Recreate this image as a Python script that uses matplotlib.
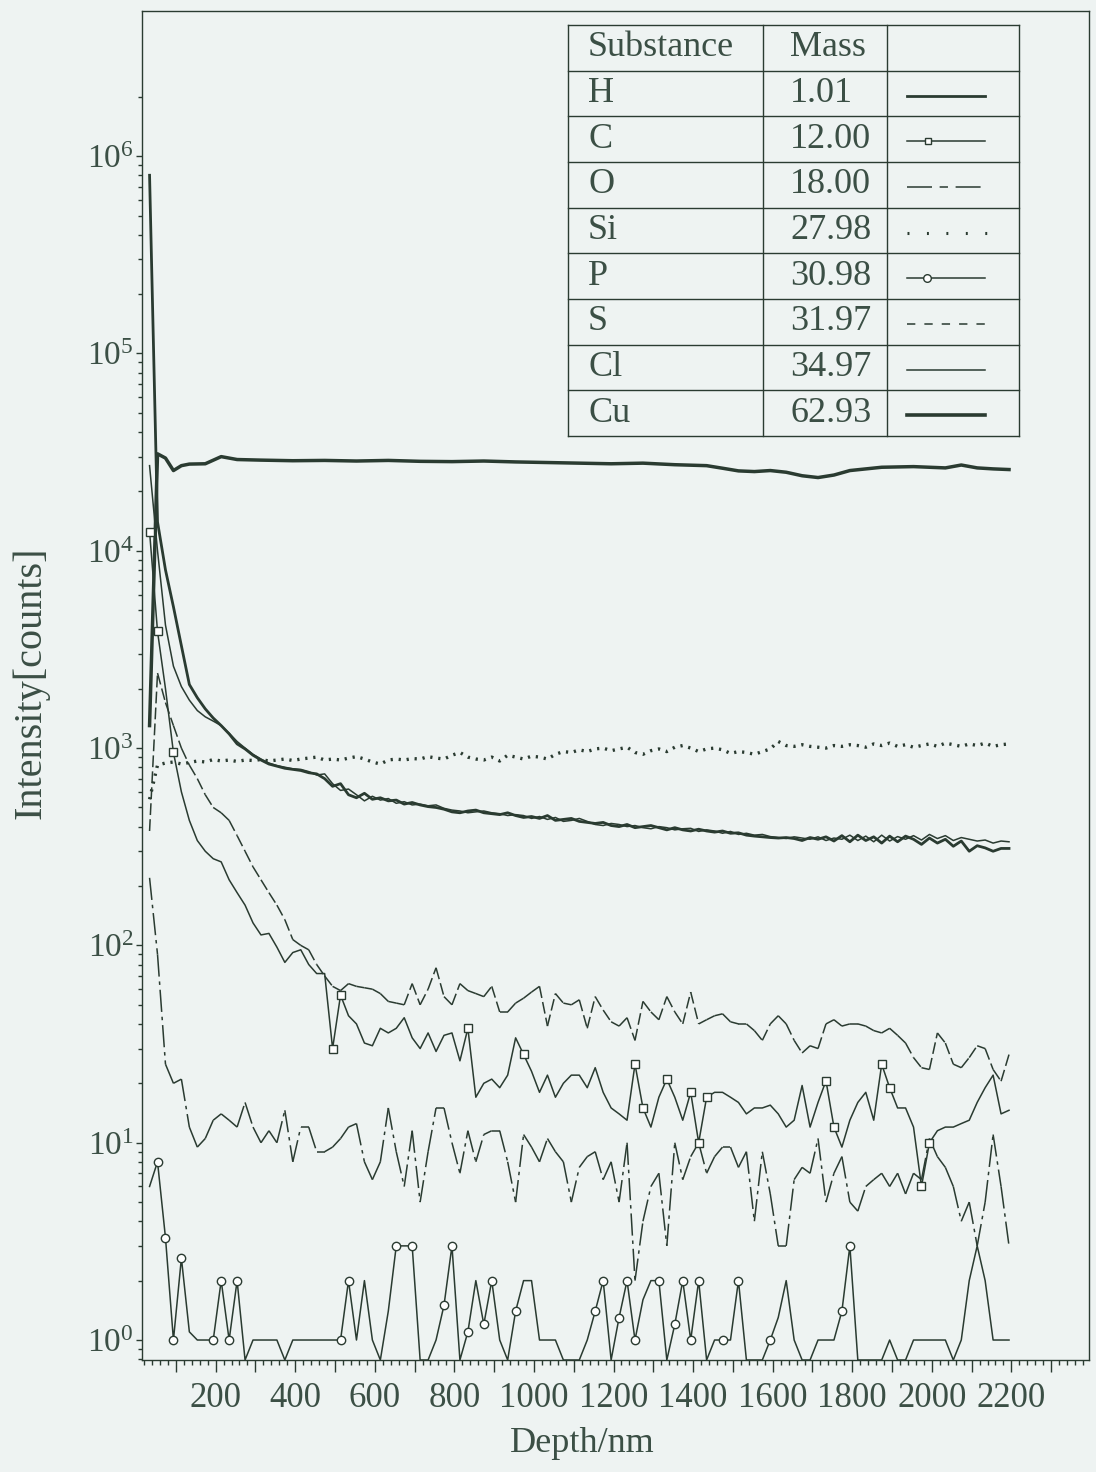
import numpy as np
import matplotlib
matplotlib.use('Agg')
import matplotlib.pyplot as plt
from matplotlib.collections import LineCollection
from matplotlib.ticker import FixedLocator, NullFormatter, FuncFormatter, MultipleLocator

plt.rcParams['font.family'] = ['Liberation Serif', 'DejaVu Serif']
plt.rcParams['mathtext.fontset'] = 'custom'
plt.rcParams['mathtext.rm'] = 'Liberation Serif'
plt.rcParams['mathtext.default'] = 'regular'
plt.rcParams['lines.scale_dashes'] = False

BG = '#eef3f2'
LC = '#2a3b31'
TXT = '#3b4f45'

# ---------------- data ----------------
depth = [34, 54, 74, 94, 114, 134, 154, 174, 194, 214,
         234, 254, 274, 294, 314, 334, 354, 374, 394, 414,
         434, 454, 474, 494, 514, 534, 554, 574, 594, 614,
         634, 654, 674, 694, 714, 734, 754, 774, 794, 814,
         834, 854, 874, 894, 914, 934, 954, 974, 994, 1014,
         1034, 1054, 1074, 1094, 1114, 1134, 1154, 1174, 1194, 1214,
         1234, 1254, 1274, 1294, 1314, 1334, 1354, 1374, 1394, 1414,
         1434, 1454, 1474, 1494, 1514, 1534, 1554, 1574, 1594, 1614,
         1634, 1654, 1674, 1694, 1714, 1734, 1754, 1774, 1794, 1814,
         1834, 1854, 1874, 1894, 1914, 1934, 1954, 1974, 1994, 2014,
         2034, 2054, 2074, 2094, 2114, 2134, 2154, 2174, 2194]

H = [800000, 14000, 8000, 5200, 3300, 2100, 1800, 1580, 1420, 1300,
     1180, 1050, 990, 920, 870, 830, 810, 790, 780, 770,
     750, 740, 700, 640, 660, 580, 560, 590, 550, 560,
     540, 545, 520, 530, 515, 505, 500, 490, 475, 470,
     480, 485, 470, 465, 460, 470, 455, 445, 450, 440,
     455, 430, 435, 440, 425, 420, 415, 420, 405, 400,
     410, 395, 400, 405, 395, 385, 395, 385, 380, 388,
     380, 375, 380, 370, 372, 362, 358, 355, 352, 350,
     352, 348, 340, 352, 345, 355, 338, 360, 335, 362,
     340, 355, 330, 358, 335, 358, 345, 325, 350, 330,
     345, 318, 338, 300, 320, 312, 300, 310, 310]

Cl = [27000, 10000, 4200, 2600, 2050, 1750, 1550, 1440, 1370, 1300,
      1190, 1080, 1000, 930, 880, 840, 815, 800, 785, 780,
      760, 730, 740, 660, 610, 620, 580, 540, 570, 545,
      555, 525, 535, 515, 520, 510, 515, 495, 485, 480,
      470, 475, 480, 470, 465, 455, 460, 455, 440, 450,
      435, 445, 425, 430, 440, 425, 410, 405, 415, 410,
      400, 405, 395, 390, 400, 395, 385, 390, 392, 378,
      385, 380, 370, 378, 365, 370, 362, 365, 356, 352,
      348, 355, 350, 345, 355, 340, 350, 345, 362, 340,
      358, 335, 362, 338, 356, 345, 360, 342, 365, 348,
      360, 340, 352, 345, 338, 342, 330, 338, 335]

C = [12500, 3900, 2000, 950, 600, 430, 340, 300, 275, 265,
     215, 185, 160, 130, 113, 115, 98, 82, 92, 95,
     80, 72, 72, 30, 56, 44, 40, 32, 31, 38,
     36, 38, 43, 34, 30, 36, 29, 35, 36, 26,
     38, 17, 20, 21, 19, 22, 34, 28, 23, 18,
     22, 17, 20, 22, 22, 19, 24, 18, 15, 14,
     13, 25, 15, 12, 17, 21, 17, 13, 18, 10,
     17, 18, 18, 17, 16, 14, 15, 15, 15.5, 14,
     12, 13, 19.5, 12, 16, 20.6, 12, 9.5, 13, 16,
     18, 13, 25, 19, 15, 15, 12, 6, 10, 11.5,
     12, 12, 12.5, 13, 16, 19, 22, 14, 14.6]

O = [220, 90, 25, 20, 21, 12, 9.5, 10.5, 13, 14,
     13, 12, 16, 12, 10, 11.5, 10, 14.6, 8, 12,
     12, 9, 9, 9.5, 10.5, 12, 12.5, 8, 6.5, 8,
     15, 9, 6, 11.5, 5, 9, 15, 15, 10, 7,
     11.5, 8, 11, 11.5, 11.5, 8, 5, 11, 9.5, 8,
     10.5, 9, 8, 5, 7.5, 8.5, 9, 6.5, 8, 5,
     10, 2, 4, 6, 7, 3, 10, 6.5, 8.5, 10,
     7, 8.5, 9.5, 9.5, 7.5, 9, 4, 9, 5.5, 3,
     3, 6.5, 7.5, 7, 10.5, 5, 7, 8.5, 5, 4.5,
     6, 6.5, 7, 6, 7, 5.5, 7, 6.5, 10.5, 8.5,
     7.5, 6, 4, 5, 3, 5, 11, 6, 3]

Si = [550, 820, 840, 850, 830, 845, 860, 850, 875, 860,
      870, 855, 870, 865, 875, 860, 870, 880, 865, 880,
      890, 900, 870, 880, 870, 890, 905, 880, 850, 830,
      870, 880, 870, 885, 880, 905, 890, 880, 920, 950,
      900, 880, 870, 900, 860, 920, 900, 880, 910, 900,
      880, 930, 960, 950, 980, 960, 990, 1000, 970, 990,
      1010, 950, 930, 970, 990, 960, 1010, 1030, 1000, 960,
      990, 1000, 980, 940, 960, 950, 930, 960, 990, 1080,
      1030, 1020, 1040, 1020, 1010, 1000, 1030, 1020, 1040, 1030,
      1010, 1050, 1030, 1060, 1020, 1040, 1010, 1030, 1050, 1020,
      1060, 1040, 1020, 1050, 1030, 1060, 1020, 1040, 1050]

P = [6, 8, 3.3, 1, 2.6, 1.1, 1, 1, 1, 2,
     1, 2, 0, 1, 1, 1, 1, 0, 1, 1,
     1, 1, 1, 1, 1, 2, 1, 2, 1, 0,
     1.4, 3, 3, 3, 0, 0, 1, 1.5, 3, 0,
     1.1, 2, 1.2, 2, 1, 0, 1.4, 2, 2, 1,
     1, 1, 0, 0, 0, 1, 1.4, 2, 0, 1.3,
     2, 1, 1.6, 2, 2, 0, 1.2, 2, 1, 2,
     0, 1, 1, 1, 2, 0, 0, 0, 1, 1.3,
     2, 1, 0, 0, 1, 1, 1, 1.4, 3, 0,
     0, 0, 0, 1, 0, 0, 1, 1, 1, 1,
     1, 0, 1, 2, 3, 2, 1, 1, 1]

S = [380, 2400, 1700, 1300, 1000, 820, 700, 580, 500, 470,
     430, 360, 300, 250, 215, 185, 160, 135, 107, 100,
     95, 80, 70, 62, 59, 64, 62, 61, 60, 57,
     52, 51, 50, 64, 50, 60, 77, 55, 50, 64,
     59, 57, 55, 62, 46, 46, 51, 54, 58, 62,
     39, 57, 51, 50, 53, 38, 55, 47, 41, 39,
     43, 33, 52, 46, 42, 55, 46, 40, 58, 40,
     42, 44, 45, 41, 40, 40, 37, 33, 40, 44,
     40, 33, 28.5, 31, 30, 40, 42, 39, 40, 40,
     39, 37, 36, 38, 35, 32, 27, 24, 23.5, 36,
     32, 25, 24, 27, 31, 30, 23.5, 20.5, 28]

cu_depth = [34, 54, 74, 94, 114, 134, 174, 214, 254, 314,
            394, 474, 554, 634, 714, 794, 874, 954, 1034, 1114,
            1194, 1274, 1354, 1434, 1474, 1514, 1554, 1594, 1634, 1674,
            1714, 1754, 1794, 1874, 1954, 2034, 2074, 2114, 2154, 2194]
Cu = [1300, 31000, 29500, 25500, 27000, 27500, 27600, 30000, 29000, 28800,
      28600, 28700, 28500, 28700, 28400, 28300, 28500, 28200, 28000, 27800,
      27600, 27800, 27300, 27000, 26200, 25400, 25200, 25500, 25000, 24000,
      23500, 24200, 25500, 26500, 26700, 26300, 27200, 26300, 26000, 25800]

c_marks = [0, 1, 3, 23, 24, 40, 47, 61, 62, 65, 68, 69, 70, 85, 86, 92, 93, 97, 98]
p_marks = [1, 2, 3, 4, 8, 9, 10, 11, 24, 25, 31, 33, 37, 38, 40, 42, 43, 46,
           56, 57, 59, 60, 61, 64, 66, 67, 68, 69, 72, 74, 78, 87, 88]

legend_rows = [('H', '1.01'), ('C', '12.00'), ('O', '18.00'), ('Si', '27.98'),
               ('P', '30.98'), ('S', '31.97'), ('Cl', '34.97'), ('Cu', '62.93')]

# ---------------- figure ----------------
YMIN, YMAX = 0.792, 5.44e6
W, Hpx = 1096, 1472
fig = plt.figure(figsize=(W / 100, Hpx / 100), dpi=100)
fig.patch.set_facecolor(BG)
ax = fig.add_axes([142 / W, 112 / Hpx, 947 / W, 1349 / Hpx])
ax.set_facecolor(BG)
ax.set_yscale('log')
ax.set_xlim(15, 2395)
ax.set_ylim(YMIN, YMAX)

d = np.array(depth, dtype=float)

def segments(x, y):
    pts = np.column_stack([x, y])
    return np.stack([pts[:-1], pts[1:]], axis=1)

# Cu (thick)
ax.plot(cu_depth, Cu, color=LC, lw=2.5, solid_joinstyle='round', zorder=5)
# H (medium thick)
ax.plot(d, H, color=LC, lw=2.0, zorder=5)
# Cl (thin)
ax.plot(d, Cl, color=LC, lw=1.1, zorder=5)
# C (thin with squares)
ax.plot(d, C, color=LC, lw=1.1, marker='s', markevery=c_marks, ms=5.5,
        mfc='white', mec=LC, mew=1.0, zorder=6)
# P (thin with circles), zero counts drawn at the bottom of the axis
Pv = np.array(P, dtype=float)
Pv = np.where(Pv > 0, Pv, YMIN)
ax.plot(d, Pv, color=LC, lw=1.1, marker='o', markevery=p_marks, ms=6,
        mfc='white', mec=LC, mew=1.0, zorder=6)
# Si (dotted)
ax.plot(d, Si, color=LC, lw=2.4, ls=(0, (1.6, 4.2)), dash_capstyle='butt', zorder=5)
# O (dash-dot, pattern restarts per segment)
lcO = LineCollection(segments(d, O), colors=LC, linewidths=1.1,
                     linestyles=[(0, (16, 3.5, 2.5, 3.5))], zorder=5)
ax.add_collection(lcO)
# S (dashed, pattern restarts per segment)
lcS = LineCollection(segments(d, S), colors=LC, linewidths=1.1,
                     linestyles=[(0, (8.5, 3.0))], zorder=5)
ax.add_collection(lcS)

# ticks
ax.yaxis.set_major_locator(FixedLocator([1, 10, 100, 1e3, 1e4, 1e5, 1e6]))
minor_y = [m * 10.0 ** e for e in range(-1, 7) for m in range(2, 10)]
minor_y = [v for v in minor_y if YMIN <= v <= 2.0e6]
ax.yaxis.set_minor_locator(FixedLocator(minor_y))
ax.yaxis.set_minor_formatter(NullFormatter())
ax.yaxis.set_major_formatter(FuncFormatter(lambda v, p: r'$10^{%d}$' % int(round(np.log10(v)))))
ax.xaxis.set_major_locator(FixedLocator(list(range(100, 2400, 100))))
ax.xaxis.set_major_formatter(FuncFormatter(lambda v, p: f'{int(round(v))}' if round(v) % 200 == 0 and v <= 2200 else ''))
ax.xaxis.set_minor_locator(MultipleLocator(20))
ax.tick_params(axis='x', which='major', direction='out', length=8.5, width=1.0,
               pad=7, labelsize=25, color=LC, labelcolor=TXT, top=False)
ax.tick_params(axis='x', which='minor', direction='out', length=3.5, width=1.0,
               color=LC, top=False)
ax.tick_params(axis='y', which='major', direction='out', length=4.5, width=1.0,
               pad=1.5, labelsize=24, color=LC, labelcolor=TXT, right=False)
ax.tick_params(axis='y', which='minor', direction='out', length=3, width=1.0,
               color=LC, right=False)
for sp in ax.spines.values():
    sp.set_color(LC)
    sp.set_linewidth(1.0)

fig.text(31 / W, 1 - 683 / Hpx, 'Intensity[counts]', rotation=90, ha='center',
         va='center', fontsize=29, color=TXT)
fig.text(582 / W, 1 - 1443 / Hpx, 'Depth/nm', ha='center', va='center',
         fontsize=26, color=TXT)

# ---------------- table legend ----------------
ov = fig.add_axes([0, 0, 1, 1], zorder=10)
ov.set_xlim(0, W)
ov.set_ylim(Hpx, 0)
ov.axis('off')
ov.patch.set_alpha(0)

tl, tr, tt, tb = 568, 1019, 25, 436
c1, c2 = 763, 887
ov.fill([tl, tr, tr, tl], [tt, tt, tb, tb], color=BG, zorder=1)
row_edges = np.linspace(tt, tb, 10)
for yy in row_edges:
    ov.plot([tl, tr], [yy, yy], color=LC, lw=1.0, zorder=2)
for xx in (tl, c1, c2, tr):
    ov.plot([xx, xx], [tt, tb], color=LC, lw=1.0, zorder=2)
centers = (row_edges[:-1] + row_edges[1:]) / 2
ov.text(588, centers[0], 'Substance', ha='left', va='center', fontsize=26, color=TXT)
ov.text(790, centers[0], 'Mass', ha='left', va='center', fontsize=26, color=TXT)
for (name, mass), yc in zip(legend_rows, centers[1:]):
    ov.text(588, yc, name, ha='left', va='center', fontsize=26, color=TXT)
    ov.text(790, yc, mass, ha='left', va='center', fontsize=26, color=TXT)

sx0, sx1 = 907, 985
ys = centers[1:] + 2
ov.plot([sx0, sx1], [ys[0], ys[0]], color=LC, lw=2.0)
ov.plot([sx0, sx1], [ys[1], ys[1]], color=LC, lw=1.1)
ov.plot([928], [ys[1]], marker='s', ms=5, mfc='white', mec=LC, mew=1.0, color=LC)
ov.plot([sx0, sx1], [ys[2], ys[2]], color=LC, lw=1.1, ls=(0, (18, 5.5, 6, 5.5)))
ov.plot([sx0, sx1 + 2], [ys[3], ys[3]], color=LC, lw=2.2, ls=(0, (1.4, 12.6)), dash_capstyle='butt')
ov.plot([sx0, sx1], [ys[4], ys[4]], color=LC, lw=1.1)
ov.plot([927], [ys[4]], marker='o', ms=5.5, mfc='white', mec=LC, mew=1.0, color=LC)
ov.plot([sx0, sx1], [ys[5], ys[5]], color=LC, lw=1.1, ls=(0, (6, 6.5)))
ov.plot([sx0, sx1], [ys[6], ys[6]], color=LC, lw=1.1)
ov.plot([sx0, sx1], [ys[7], ys[7]], color=LC, lw=2.6)

fig.savefig('out.png', dpi=100, facecolor=BG)
